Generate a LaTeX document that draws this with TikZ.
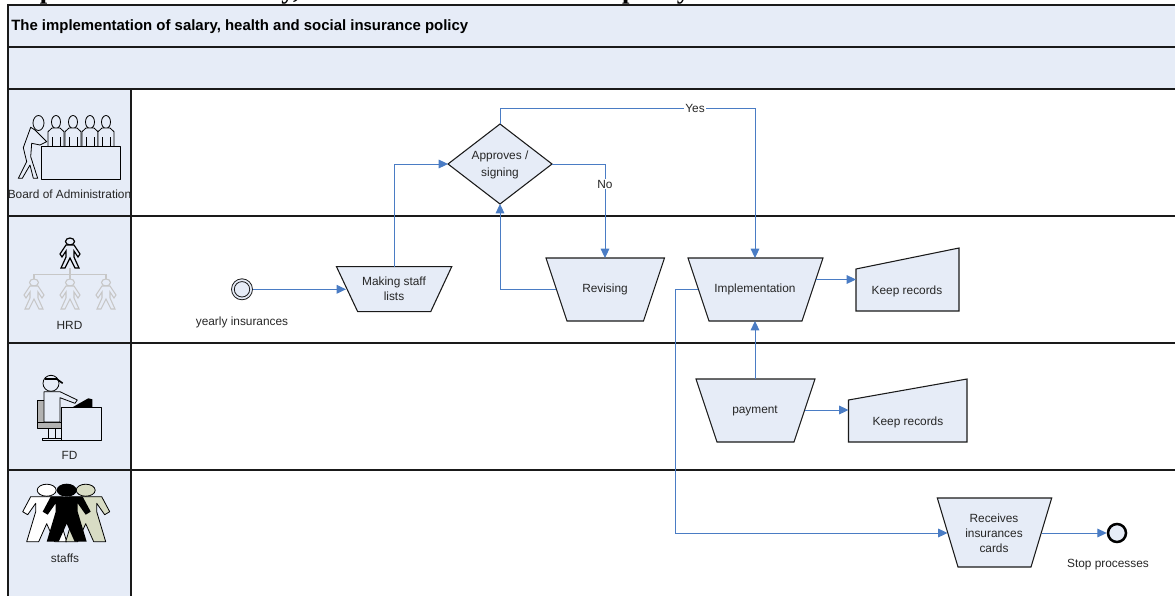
\documentclass[tikz,border=0pt]{standalone}
\usepackage{fontspec}
\setmainfont{Liberation Sans}
\newfontfamily\serifb{Liberation Serif}
\definecolor{pale}{HTML}{E6ECF7}
\definecolor{flow}{HTML}{4A7CC4}
\definecolor{ln}{HTML}{1A1A1A}
\definecolor{beige}{HTML}{D8DCC4}
\usetikzlibrary{arrows.meta}
\tikzset{
  lane/.style={draw=ln,line width=0.8pt,fill=pale},
  shapeb/.style={draw=ln,line width=0.8pt,fill=pale},
  lbl/.style={font=\fontsize{8.9}{10.5}\selectfont,text=black!85,align=center,inner sep=0pt},
  conn/.style={draw=flow,line width=0.75pt,-{Triangle[length=7pt,width=6.5pt]}},
  ic/.style={draw=black,line width=0.6pt,line join=round},
}
\begin{document}
\begin{tikzpicture}[x=0.75pt,y=-0.75pt]
\useasboundingbox (0,0) rectangle (1175,596);
% clipped heading
\begin{scope}
\clip (0,0) rectangle (1175,5);
\node[anchor=base west,inner sep=0pt,font=\fontsize{20}{22}\selectfont\bfseries\serifb] (heading) at (7,-2) {Implementation of salary, health and social insurance policy};
\end{scope}
% bands
\draw[lane] (8,5) rectangle (1178,47);
\draw[lane] (8,47) rectangle (1178,89);
\node[anchor=west,inner sep=0pt,font=\fontsize{11.2}{13}\selectfont\bfseries] (title) at (11,27) {The implementation of salary, health and social insurance policy};
% lanes
\draw[lane] (8,89) rectangle (131,216);
\draw[lane] (8,216) rectangle (131,343);
\draw[lane] (8,343) rectangle (131,470);
\draw[lane] (8,470) rectangle (131,600);
\foreach \yy in {89,216,343,470}{\draw[ln,line width=0.8pt] (131,\yy) -- (1178,\yy);}
% lane labels
\node[lbl] (l1) at (69.5,194) {Board of Administration};
\node[lbl] (l2) at (69.5,325) {HRD};
\node[lbl] (l3) at (69.5,455) {FD};
\node[lbl] (l4) at (65,558) {staffs};
% icon board
\foreach \xx in {56,73,90,106}{
  \draw[ic,fill=pale] (\xx,122) ellipse (4.5 and 6.5);
  \draw[ic,fill=pale] (\xx-8,146) -- (\xx-8,131.7) -- (\xx-4,128) -- (\xx+4,128) -- (\xx+8,131.7) -- (\xx+8,146);
  \draw[ic,line width=0.4pt] (\xx-4,146) -- (\xx-4,137) (\xx+4,146) -- (\xx+4,137);
}
\draw[ic,fill=pale] (41.5,146) rectangle (120.5,179);
\draw[ic,fill=pale] (38.5,123) ellipse (5.5 and 7.5);
\draw[ic,fill=pale] (30.7,127.3) -- (23.3,147.7) -- (26.7,161.7) -- (18.3,178.3) -- (22.3,178.3) -- (30,165) -- (33.3,178.3) -- (37.7,178.3) -- (30.7,156.7) -- (31.7,143.3) -- (40,145) -- (46.7,141.7) -- (35,130) -- cycle;
% icon HRD
\tikzset{person/.pic={
  \draw[pic actions] (0,-13.5) ellipse (4.5 and 3.5);
  \draw[pic actions] (-4,-10) -- (4,-10) -- (10,-1) -- (8,2) -- (4,-4) -- (4,2) -- (9,13) -- (5,13) -- (0,3) -- (-5,13) -- (-9,13) -- (-4,2) -- (-4,-4) -- (-8,2) -- (-10,-1) -- cycle;
}}
\draw[draw=black!22,line width=1pt] (34,274.3) -- (106,274.3) (34,274.3) -- (34,281) (70,268) -- (70,281) (106,274.3) -- (106,281);
\pic[draw=black,line width=0.9pt,fill=pale] at (70,255) {person};
\pic[draw=black!22,line width=0.8pt,fill=pale] at (34,296) {person};
\pic[draw=black!22,line width=0.8pt,fill=pale] at (70,296) {person};
\pic[draw=black!22,line width=0.8pt,fill=pale] at (106,296) {person};
% icon FD
\draw[ic,fill=black!30] (37.7,400) rectangle (44,423);
\draw[ic,fill=black!30] (37.7,422) rectangle (61.7,428.3);
\draw[ic] (48.3,428.3) -- (48.3,438.3) (55,428.3) -- (55,438.3);
\draw[ic,fill=pale] (42.3,438.3) rectangle (61.7,440.3);
\draw[ic,fill=pale] (44,422) -- (44,391.7) -- (60,391.7) -- (77.3,400) -- (75,403.3) -- (60,397.7) -- (60,422) -- cycle;
\draw[ic,fill=pale] (51,383.3) circle (8);
\draw[line width=1.2pt] (45,379) -- (56.7,379) -- (62.7,383.3);
\fill[black] (71.7,407.7) -- (88.3,398.3) -- (92.3,399.3) -- (92.3,407.7) -- cycle;
\draw[ic,fill=pale] (61.7,407.7) rectangle (101.7,440.3);
% icon staffs
\newcommand\bodypath{(-16,0) -- (16,0) -- (24,15) -- (19,18) -- (11,6.6) -- (11,15) -- (20,45) -- (8,45) -- (0,27) -- (-8,45) -- (-20,45) -- (-11,15) -- (-11,6.6) -- (-19,18) -- (-24,15) -- cycle}
\begin{scope}[shift={(46.7,496.7)}]
 \draw[ic,fill=white] \bodypath; \draw[ic,fill=white] (0,-6.5) ellipse (9.5 and 6);
\end{scope}
\begin{scope}[shift={(85.7,496.7)}]
 \draw[ic,fill=beige] \bodypath; \draw[ic,fill=beige] (0,-6.5) ellipse (9.5 and 6);
\end{scope}
\begin{scope}[shift={(66.7,496.7)}]
 \fill[black] \bodypath; \fill[black] (0,-6.5) ellipse (10 and 6.5);
\end{scope}
% start and end events
\node[circle,draw=ln,line width=0.6pt,fill=pale,minimum size=15.75pt,inner sep=0pt] (start) at (242,289.3) {};
\draw[ln,line width=0.6pt] (start.center) circle (7.7);
\node[lbl] (startl) at (242,322.5) {yearly insurances};
\node[circle,draw=black,line width=1.9pt,fill=pale,minimum size=13.5pt,inner sep=0pt] (stop) at (1117,533) {};
\node[lbl] (stopl) at (1108,565) {Stop processes};
% flow shapes
\newcommand\trap[7]{%
  \coordinate (#1TL) at (#2,#6); \coordinate (#1TR) at (#3,#6);
  \coordinate (#1BL) at (#4,#7); \coordinate (#1BR) at (#5,#7);
  \draw[shapeb] (#1TL) -- (#1TR) -- (#1BR) -- (#1BL) -- cycle;
}
\trap{mk}{336.5}{451.7}{357.7}{430.7}{266.7}{311.7}
\trap{rv}{546}{664.5}{567}{643.5}{258}{321}
\trap{im}{688}{823}{709}{802}{258}{321}
\trap{pa}{696}{815}{717}{794}{379}{442}
\trap{rc}{937.3}{1051.7}{958}{1031}{498}{567}
\node[lbl] (mkt) at (394,289) {Making staff\\[0.6pt]lists};
\node[lbl] (rvt) at (605,289.5) {Revising};
\node[lbl] (imt) at (755,289.5) {Implementation};
\node[lbl] (pat) at (755,410.5) {payment};
\node[lbl] (rct) at (994,533) {Receives\\[0.6pt]insurances\\[0.6pt]cards};
% keep records
\draw[shapeb] (856,269) -- (959,248) -- (959,311) -- (856,311) -- cycle;
\coordinate (k1w) at (856,279.5);
\node[lbl] (k1t) at (907,291) {Keep records};
\draw[shapeb] (848.5,400) -- (967,379) -- (967,442) -- (848.5,442) -- cycle;
\coordinate (k2w) at (848.5,410);
\node[lbl] (k2t) at (908,422) {Keep records};
% diamond
\draw[shapeb] (448,164) -- (500,124) -- (552,164) -- (500,204) -- cycle;
\coordinate (dW) at (448,164); \coordinate (dE) at (552,164); \coordinate (dN) at (500,124); \coordinate (dS) at (500,204);
\node[lbl] (dt) at (500,165) {Approves /\\[2.2pt]signing};
% connectors
\coordinate (mkT) at (394,266.7);
\coordinate (rvW) at (556,289.3); \coordinate (rvT) at (605,258);
\coordinate (imW) at (697.5,289.3); \coordinate (imE) at (816,279.5); \coordinate (imT) at (755,258); \coordinate (imB) at (755,321);
\coordinate (paT) at (755,379); \coordinate (paE) at (805,410);
\coordinate (mkW) at (346,289.3);
\coordinate (rcW) at (947.5,533); \coordinate (rcE) at (1041.5,533);
\coordinate (yesC) at (755,108);
\coordinate (dropC) at (675,533);
\draw[conn] (start) -- (mkW);
\draw[conn] (mkT) |- (dW);
\draw[conn] (rvW) -| (dS);
\draw[conn] (dN) |- (yesC) -- (imT);
\draw[conn] (dE) -| (rvT);
\node[fill=white,inner sep=1pt,font=\fontsize{8.9}{10.5}\selectfont,text=black!85] (yes) at (695,108) {Yes};
\node[fill=white,inner sep=1pt,font=\fontsize{8.9}{10.5}\selectfont,text=black!85] (no) at (605,184) {No};
\draw[conn] (imE) -- (k1w);
\draw[conn] (paT) -- (imB);
\draw[conn] (paE) -- (k2w);
\draw[conn] (imW) -| (dropC) -- (rcW);
\draw[conn] (rcE) -- (stop);
\end{tikzpicture}
\end{document}
